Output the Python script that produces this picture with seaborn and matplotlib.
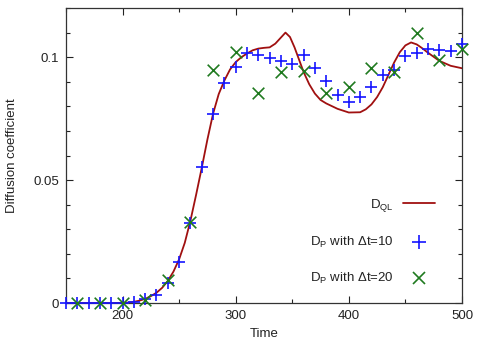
import numpy as np
import pandas as pd
import matplotlib
matplotlib.use("Agg")
import matplotlib.pyplot as plt
from matplotlib.lines import Line2D
from matplotlib.ticker import MultipleLocator
import seaborn as sns

# --- data ---
t_ql = [150, 160, 170, 180, 190, 200, 205, 210, 215, 220, 225, 230, 235, 240, 245,
        250, 255, 260, 265, 270, 275, 280, 285, 290, 295, 300, 305, 310, 315, 320,
        325, 330, 335, 340, 344, 348, 352, 356, 360, 365, 370, 375, 380, 390, 400,
        410, 415, 420, 425, 430, 435, 440, 445, 450, 455, 460, 465, 470, 480, 490, 500]
d_ql = [0.0, 0.0, 0.0, 0.0, 0.0, 0.0001, 0.0002, 0.0005, 0.001, 0.0017, 0.0028, 0.0042,
        0.0062, 0.009, 0.0128, 0.0178, 0.0245, 0.0335, 0.0440, 0.0550, 0.0665, 0.0770,
        0.0850, 0.0905, 0.0950, 0.0980, 0.1000, 0.1015, 0.1028, 0.1035, 0.1038, 0.1040,
        0.1055, 0.1080, 0.1100, 0.1082, 0.1040, 0.0990, 0.0940, 0.0890, 0.0852, 0.0826,
        0.0812, 0.0790, 0.0775, 0.0776, 0.0788, 0.0808, 0.0838, 0.0878, 0.0928, 0.0978,
        0.1020, 0.1048, 0.1060, 0.1052, 0.1036, 0.1018, 0.0985, 0.0965, 0.0955]

t_p10 = [150, 160, 170, 180, 190, 200, 210, 220, 230, 240, 250, 260, 270, 280, 290,
         300, 310, 320, 330, 340, 350, 360, 370, 380, 390, 400, 410, 420, 430, 440,
         450, 460, 470, 480, 490, 500]
d_p10 = [0.0, 0.0, 0.0, 0.0, 0.0, 0.0002, 0.0006, 0.0015, 0.0033, 0.0080, 0.0167,
         0.0325, 0.0553, 0.0770, 0.0894, 0.0959, 0.1016, 0.1008, 0.0996, 0.0984, 0.0972,
         0.1008, 0.0955, 0.0902, 0.0846, 0.0817, 0.0837, 0.0878, 0.0927, 0.0947, 0.1004,
         0.1016, 0.1033, 0.1028, 0.1024, 0.1053]

t_p20 = [160, 180, 200, 220, 240, 260, 280, 300, 320, 340, 360, 380, 400, 420, 440,
         460, 480, 500]
d_p20 = [0.0, 0.0, 0.0, 0.0012, 0.0093, 0.0330, 0.0947, 0.1020, 0.0854, 0.0940, 0.0943,
         0.0854, 0.0878, 0.0955, 0.0940, 0.1098, 0.0988, 0.1033]

x_ticks = [200, 300, 400, 500]
y_ticks = [0, 0.05, 0.1]
y_tick_labels = ["0", "0.05", "0.1"]

labels = ["D$_{QL}$", "D$_P$ with \u0394t=10", "D$_P$ with \u0394t=20"]

# --- styling ---
sns.set_theme(style="ticks")
plt.rcParams["font.family"] = ["Liberation Sans", "DejaVu Sans"]
plt.rcParams["mathtext.default"] = "regular"
plt.rcParams["font.size"] = 9

red = "#a01010"
blue = "#1515ff"
green = "#1f7a1f"

fig = plt.figure(figsize=(4.78, 3.44), dpi=100)
ax = fig.add_axes([0.138, 0.119, 0.9665 - 0.138, 0.9767 - 0.119])

df_ql = pd.DataFrame({"t": t_ql, "d": d_ql})
df_10 = pd.DataFrame({"t": t_p10, "d": d_p10})
df_20 = pd.DataFrame({"t": t_p20, "d": d_p20})

sns.lineplot(data=df_ql, x="t", y="d", ax=ax, color=red, linewidth=1.3, zorder=2)
sns.scatterplot(data=df_10, x="t", y="d", ax=ax, marker="+", color=blue, s=85,
                linewidth=1.2, zorder=3, clip_on=False)
sns.scatterplot(data=df_20, x="t", y="d", ax=ax, marker="x", color=green, s=70,
                linewidth=1.2, zorder=3, clip_on=False)

ax.set_xlim(150, 500)
ax.set_ylim(0, 0.12)
ax.set_xticks(x_ticks)
ax.set_yticks(y_ticks)
ax.set_yticklabels(y_tick_labels)
ax.xaxis.set_minor_locator(MultipleLocator(50))
ax.yaxis.set_minor_locator(MultipleLocator(0.01))
ax.tick_params(which="both", direction="in", top=True, right=True, colors="#222222",
               labelcolor="#222222", labelsize=9.5, width=0.8)
ax.tick_params(which="major", length=5, pad=5)
ax.tick_params(which="minor", length=3)
for s in ax.spines.values():
    s.set_linewidth(0.9)
    s.set_color("#333333")

ax.set_xlabel("Time", fontsize=9.5, color="#222222", labelpad=4)
ax.set_ylabel("Diffusion coefficient", fontsize=9.5, color="#222222", labelpad=11)

handles = [
    Line2D([], [], color=red, linewidth=1.3),
    Line2D([], [], color=blue, marker="+", linestyle="None", markersize=10, markeredgewidth=1.2),
    Line2D([], [], color=green, marker="x", linestyle="None", markersize=9, markeredgewidth=1.2),
]
leg = ax.legend(handles, labels, loc="lower right", bbox_to_anchor=(0.955, 0.025),
                frameon=False, markerfirst=False, labelspacing=1.6, handlelength=2.4,
                handletextpad=0.7, fontsize=9.5, borderaxespad=0.3)
for txt in leg.get_texts():
    txt.set_ha("right")
    txt.set_color("#222222")

fig.savefig("out.png", dpi=100)
